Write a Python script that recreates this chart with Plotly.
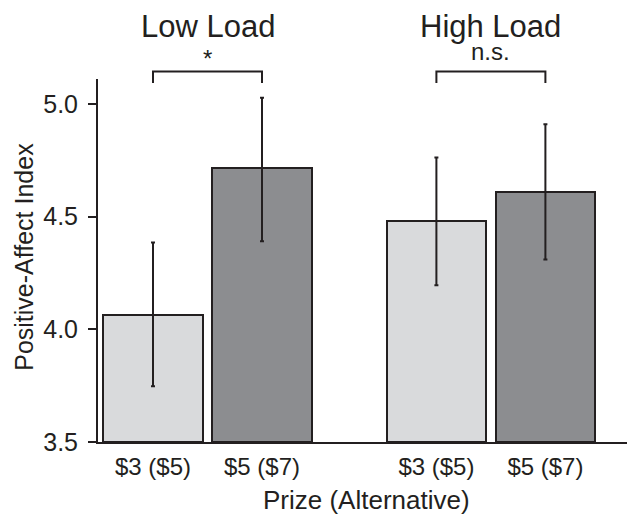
import plotly.graph_objects as go

# ---- data ----
groups = ["Low Load", "High Load"]
prize_labels = ["$3 ($5)", "$5 ($7)"]
means = [[4.065, 4.716], [4.481, 4.609]]
err_low = [[3.747, 4.391], [4.196, 4.310]]
err_high = [[4.385, 5.028], [4.763, 4.910]]
significance = ["*", "n.s."]
bar_colors = ["#d9dadc", "#8c8d90"]
x_title = "Prize (Alternative)"
y_title = "Positive-Affect Index"

FONT = "Arial, Liberation Sans, Helvetica, sans-serif"
DARK = "#231f20"
group_step = 2.6

fig = go.Figure()
tickvals, ticktext = [], []
for gi, g in enumerate(groups):
    for pi, lab in enumerate(prize_labels):
        x = gi * group_step + pi
        m = means[gi][pi]
        fig.add_trace(go.Bar(
            x=[x], y=[m - 3.5], base=3.5, width=0.91,
            marker=dict(color=bar_colors[pi], line=dict(color=DARK, width=2)),
            error_y=dict(type="data", symmetric=False,
                         array=[err_high[gi][pi] - m],
                         arrayminus=[m - err_low[gi][pi]],
                         color=DARK, thickness=2, width=2),
            showlegend=False, hoverinfo="skip",
        ))
        tickvals.append(x)
        ticktext.append(lab)

shapes = []
annotations = []
for gi, g in enumerate(groups):
    x0 = gi * group_step
    x1 = x0 + 1
    xm = (x0 + x1) / 2
    shapes.append(dict(type="path", xref="x", yref="paper",
                       path=f"M {x0},0.989 L {x0},1.0207 L {x1},1.0207 L {x1},0.989",
                       line=dict(color=DARK, width=2)))
    annotations.append(dict(text=g, x=xm, y=1.146, xref="x", yref="paper",
                            showarrow=False, xanchor="center", yanchor="middle",
                            font=dict(family=FONT, size=31, color=DARK)))
    annotations.append(dict(text=significance[gi], x=xm,
                            y=1.057 if significance[gi] == "*" else 1.075,
                            xref="x", yref="paper",
                            showarrow=False, xanchor="center", yanchor="middle",
                            font=dict(family=FONT, size=24, color=DARK)))

annotations.append(dict(text=x_title, x=0.5, y=-0.161, xref="paper", yref="paper",
                        showarrow=False, xanchor="center", yanchor="middle",
                        font=dict(family=FONT, size=26, color=DARK)))
annotations.append(dict(text=y_title, x=-0.138, y=0.51, xref="paper", yref="paper",
                        showarrow=False, xanchor="center", yanchor="middle", textangle=-90,
                        font=dict(family=FONT, size=25, color=DARK)))

# page body adds an 8px offset; margins compensate so the plot lands where the reference has it
fig.update_layout(
    width=635, height=515,
    margin=dict(l=90, r=8, t=71, b=81),
    paper_bgcolor="white", plot_bgcolor="white",
    bargap=0,
    shapes=shapes, annotations=annotations,
    font=dict(family=FONT, color=DARK),
)
fig.update_xaxes(
    range=[-0.5046, 4.422], tickvals=tickvals, ticktext=ticktext,
    showline=True, linecolor=DARK, linewidth=2, ticks="", showgrid=False,
    zeroline=False, tickfont=dict(family=FONT, size=24, color=DARK),
    ticklabelstandoff=2, automargin=False,
)
fig.update_yaxes(
    range=[3.5, 5.111], tickvals=[3.5, 4.0, 4.5, 5.0], tickformat=".1f",
    showline=True, linecolor=DARK, linewidth=2, ticks="outside", ticklen=8,
    tickwidth=1.5, tickcolor=DARK, showgrid=False, zeroline=False,
    tickfont=dict(family=FONT, size=25, color=DARK), automargin=False,
    ticklabelstandoff=5,
)

fig.write_html("out.html")
